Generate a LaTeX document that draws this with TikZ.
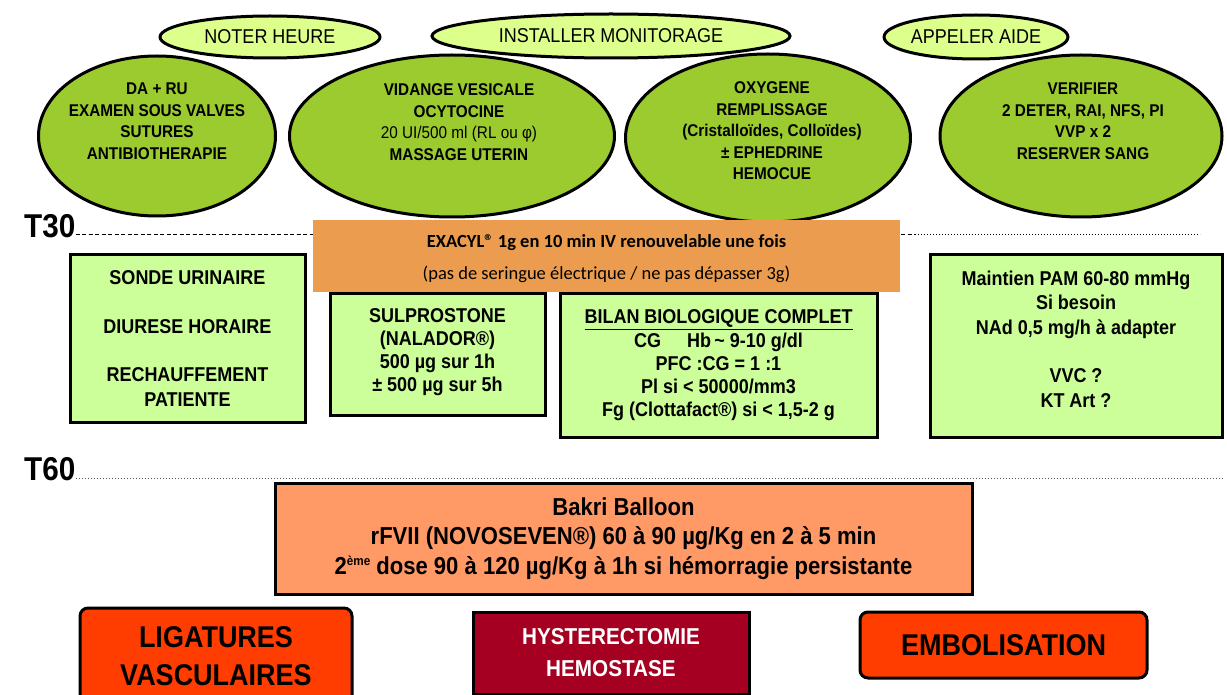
\documentclass[tikz,border=0pt]{standalone}
\usepackage{fontspec}
\setmainfont{Liberation Sans}
\newfontfamily\narrowfont[FakeStretch=0.9]{Liberation Sans}
\newfontfamily\calibfont{Carlito}
\usepackage{tikz}
\usetikzlibrary{shapes.geometric}

\definecolor{ellgreen}{HTML}{9BCB2F}
\definecolor{palegreen}{HTML}{DDFF8C}
\definecolor{boxgreen}{HTML}{CCFF99}
\definecolor{exaorange}{HTML}{EB9C4E}
\definecolor{bakrisalmon}{HTML}{FF9966}
\definecolor{redbox}{HTML}{FF3D00}
\definecolor{hystred}{HTML}{A50021}

\tikzset{
  bigell/.style={ellipse, draw, line width=3pt, fill=ellgreen, inner sep=0pt},
  smallell/.style={ellipse, draw, line width=3pt, fill=palegreen, inner sep=0pt,
    font=\narrowfont\fontsize{20}{24}\selectfont},
  elltext/.style={align=center, font=\narrowfont\bfseries\fontsize{17}{21.5}\selectfont},
  greenbox/.style={draw, line width=3pt, fill=boxgreen, inner sep=0pt},
  boxtext/.style={align=center, font=\narrowfont\bfseries\fontsize{20}{24.5}\selectfont},
  tlabel/.style={anchor=south west, inner sep=0pt, font=\narrowfont\bfseries\fontsize{33}{33}\selectfont},
  finalbox/.style={draw, line width=3pt, inner sep=0pt, align=center,
    font=\narrowfont\bfseries\fontsize{30}{38}\selectfont},
}

\begin{document}
\begin{tikzpicture}[x=1pt, y=-1pt, thin]
  \useasboundingbox (0,0) rectangle (1227,695);

  % Big ellipses
  \foreach \n/\x/\y/\w/\h in {1/157/136/237/160, 2/452/136/325/162,
                              3/768/138/285/168, 4/1081/136/282/162} {
    \node[bigell, minimum width=\w*1pt, minimum height=\h*1pt] (big\n) at (\x,\y) {};
  }
  \node[elltext] (bigtxt1) at (157,121) {DA + RU\\EXAMEN SOUS VALVES\\SUTURES\\ANTIBIOTHERAPIE};
  \node[elltext] (bigtxt2) at (459,122) {VIDANGE VESICALE\\OCYTOCINE\\
    {\mdseries 20 UI/500 ml (RL ou φ)}\\MASSAGE UTERIN};
  \node[elltext] (bigtxt3) at (772,131) {OXYGENE\\REMPLISSAGE\\(Cristalloïdes, Colloïdes)\\
    ± EPHEDRINE\\HEMOCUE};
  \node[elltext] (bigtxt4) at (1083,121) {VERIFIER\\2 DETER, RAI, NFS, PI\\VVP x 2\\RESERVER SANG};

  % Small ellipses on top
  \node[smallell, minimum width=220pt, minimum height=42pt] (noter) at (270,37) {NOTER HEURE};
  \node[smallell, minimum width=358pt, minimum height=44pt] (monit) at (611,36) {INSTALLER MONITORAGE};
  \node[smallell, minimum width=158pt, minimum height=44pt] (aide) at (976,37) {APPELER AIDE};

  % T30
  \node[tlabel] (t30) at (24,238) {T30};
  \coordinate (t30mid) at (915,235);
  \coordinate (t30end) at (1200,235);
  \draw[line width=1pt, dash pattern=on 4pt off 2.5pt] (t30.south east) ++(0,-3) -- (t30mid);
  \draw[line width=1pt, dotted] (t30mid) -- (t30end);

  \node[fill=exaorange, minimum width=587pt, minimum height=72pt, inner sep=0pt,
        align=center, font=\calibfont\fontsize{18.5}{32}\selectfont] (exacyl) at (606.5,256)
    {};
  \node[align=center, font=\calibfont\fontsize{18.5}{32}\selectfont] (exacyltxt)
    at ([yshift=-2.5pt]exacyl.center)
    {\bfseries EXACYL® 1g en 10 min IV renouvelable une fois\\(pas de seringue électrique / ne pas dépasser 3g)};

  \node[greenbox, minimum width=235pt, minimum height=167pt] (sonde) at (187.5,338.5) {};
  \node[boxtext] (sondetxt) at (sonde.center)
    {SONDE URINAIRE\\[24pt]DIURESE HORAIRE\\[24pt]RECHAUFFEMENT\\PATIENTE};

  \node[greenbox, minimum width=215pt, minimum height=121pt] (sulpro) at (437.5,354.5) {};
  \node[boxtext, font=\narrowfont\bfseries\fontsize{20}{23}\selectfont] (sulprotxt) at ([yshift=2pt]sulpro.center)
    {SULPROSTONE\\(NALADOR®)\\500 µg sur 1h\\± 500 µg sur 5h};

  \node[greenbox, minimum width=317pt, minimum height=143pt] (bilan) at (718.5,365.5) {};
  \node[boxtext, font=\narrowfont\bfseries\fontsize{20}{23.3}\selectfont] (bilantxt) at (bilan.center)
    {\underline{BILAN BIOLOGIQUE COMPLET}\\CG\hspace{1.3em}Hb\,\textasciitilde\ 9-10 g/dl\\
     PFC :CG = 1 :1\\Pl si < 50000/mm3\\Fg (Clottafact®) si < 1,5-2 g};

  \node[greenbox, minimum width=292pt, minimum height=182pt] (pam) at (1076,346) {};
  \node[boxtext] (pamtxt) at ([yshift=7pt]pam.center)
    {Maintien PAM 60-80 mmHg\\Si besoin\\NAd 0,5 mg/h à adapter\\[24pt]VVC ?\\KT Art ?};

  % T60
  \node[tlabel] (t60) at (24,481) {T60};
  \coordinate (t60end) at (1222,478);
  \draw[line width=1pt, dotted, gray!70!black] (t60.south east) ++(0,-3) -- (t60end);

  \node[draw, line width=3pt, fill=bakrisalmon, minimum width=697pt, minimum height=111pt,
        inner sep=0pt, align=center, font=\narrowfont\bfseries\fontsize{24.5}{29.5}\selectfont]
    (bakri) at (623.5,538.5)
    {Bakri Balloon\\rFVII (NOVOSEVEN®) 60 à 90 µg/Kg en 2 à 5 min\\
     2\raisebox{9pt}{\fontsize{13}{13}\selectfont ème} dose 90 à 120 µg/Kg à 1h si hémorragie persistante};

  % Last resort
  \node[finalbox, fill=redbox, rounded corners=8pt, minimum width=272pt, minimum height=96pt]
    (ligat) at (216,656) {LIGATURES\\VASCULAIRES};
  \node[finalbox, fill=hystred, text=white, minimum width=276pt, minimum height=82pt,
        font=\narrowfont\bfseries\fontsize{23}{32}\selectfont]
    (hyster) at (611,653) {HYSTERECTOMIE\\HEMOSTASE};
  \node[finalbox, fill=redbox, rounded corners=8pt, minimum width=287pt, minimum height=66pt]
    (embol) at (1003.5,645) {EMBOLISATION};
\end{tikzpicture}
\end{document}
